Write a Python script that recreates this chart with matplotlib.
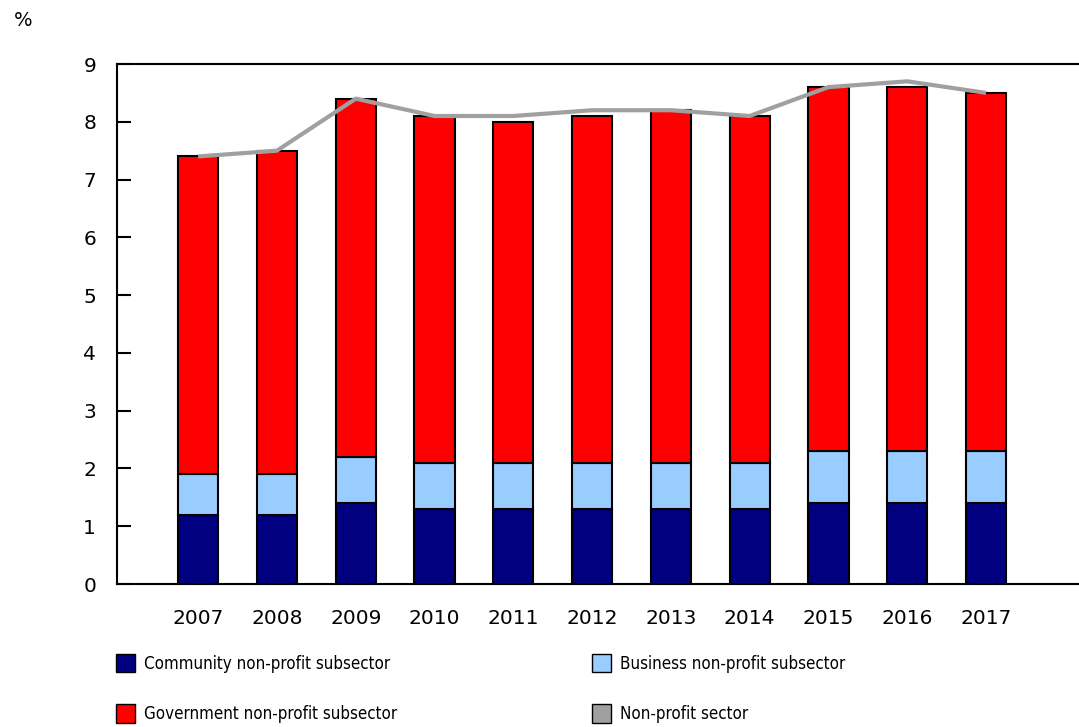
import matplotlib
matplotlib.use("Agg")
import matplotlib.pyplot as plt
from matplotlib.patches import Patch
from matplotlib.font_manager import FontProperties
import numpy as np

years = ["2007", "2008", "2009", "2010", "2011", "2012", "2013", "2014", "2015", "2016", "2017"]
community = [1.2, 1.2, 1.4, 1.3, 1.3, 1.3, 1.3, 1.3, 1.4, 1.4, 1.4]
business = [0.7, 0.7, 0.8, 0.8, 0.8, 0.8, 0.8, 0.8, 0.9, 0.9, 0.9]
government = [5.5, 5.6, 6.2, 6.0, 5.9, 6.0, 6.1, 6.0, 6.3, 6.3, 6.2]
nonprofit_total = [7.4, 7.5, 8.4, 8.1, 8.1, 8.2, 8.2, 8.1, 8.6, 8.7, 8.5]
y_ticks = [0, 1, 2, 3, 4, 5, 6, 7, 8, 9]

plt.rcParams["font.family"] = ["DejaVu Sans"]

W, H = 1079, 727
fig = plt.figure(figsize=(W / 100, H / 100), dpi=100)
ax = fig.add_axes([117 / W, (H - 584) / H, 962 / W, 520 / H])

x = np.arange(len(years))
c_comm = "#000080"
c_bus = "#99CCFF"
c_gov = "#FF0000"
c_line = "#A0A0A0"
bw = 0.51
ekw = dict(edgecolor="black", linewidth=1.5, width=bw, zorder=2)

b1 = np.array(community)
b2 = b1 + np.array(business)
ax.bar(x, community, color=c_comm, **ekw)
ax.bar(x, business, bottom=b1, color=c_bus, **ekw)
ax.bar(x, government, bottom=b2, color=c_gov, **ekw)
ax.plot(x, nonprofit_total, color=c_line, linewidth=3, zorder=3, solid_capstyle="butt")

ax.set_xlim(-1.03, 11.18)
ax.set_ylim(0, 9)
ax.set_yticks(y_ticks)
ax.set_xticks(x)
ax.set_xticklabels(years)
ax.tick_params(axis="y", direction="in", length=10, width=1.5, labelsize=14.5, pad=15, colors="black")
ax.tick_params(axis="x", length=0, labelsize=14.5, pad=18)
for s in ["left", "bottom", "top"]:
    ax.spines[s].set_linewidth(1.5)
ax.spines["right"].set_visible(False)

fig.text(14 / W, 1 - 20 / H, "%", fontsize=14, va="center", ha="left")

leg_font = FontProperties(family="DejaVu Sans", stretch="condensed", size=12.2)
p_comm = Patch(facecolor=c_comm, edgecolor="black", label="Community non-profit subsector")
p_bus = Patch(facecolor=c_bus, edgecolor="black", label="Business non-profit subsector")
p_gov = Patch(facecolor=c_gov, edgecolor="black", label="Government non-profit subsector")
p_tot = Patch(facecolor=c_line, edgecolor="black", label="Non-profit sector")

leg_kw = dict(loc="upper left", frameon=False, prop=leg_font, handlelength=1.1,
              handleheight=1.3, handletextpad=0.55, labelspacing=1.85, borderpad=0,
              borderaxespad=0)
fig.legend(handles=[p_comm, p_gov], bbox_to_anchor=(116 / W, 1 - 654 / H), **leg_kw)
fig.legend(handles=[p_bus, p_tot], bbox_to_anchor=(592 / W, 1 - 654 / H), **leg_kw)

fig.savefig("out.png", dpi=100)
